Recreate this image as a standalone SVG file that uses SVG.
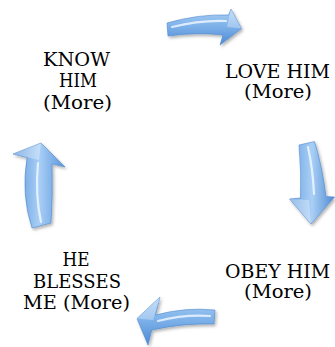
<svg xmlns="http://www.w3.org/2000/svg" width="335" height="347" viewBox="0 0 335 347">
<style>
.lbl{font-family:"DejaVu Serif","Liberation Serif",serif;font-size:18px;fill:#000000;text-anchor:middle}
.arrow{stroke:#4f88cc;stroke-width:0.6;stroke-linejoin:round;filter:url(#sh)}
.hl{fill:none;stroke:#f2f9ff;stroke-width:2.2;stroke-linecap:round;opacity:0.8}
.facet{fill:#ffffff;opacity:0.3}
</style>
<defs>
<filter id="sh" x="-20%" y="-20%" width="150%" height="150%">
<feDropShadow dx="1.5" dy="2" stdDeviation="1.5" flood-color="#000" flood-opacity="0.3"/>
</filter>
<linearGradient id="gTop" x1="0" y1="0" x2="0" y2="1">
<stop offset="0" stop-color="#acd0f5"/><stop offset="0.45" stop-color="#80b3ea"/><stop offset="1" stop-color="#4c8ad5"/>
</linearGradient>
<linearGradient id="gBot" x1="0" y1="1" x2="0" y2="0">
<stop offset="0" stop-color="#4c8ad5"/><stop offset="0.55" stop-color="#80b3ea"/><stop offset="1" stop-color="#a9cef5"/>
</linearGradient>
<linearGradient id="gRight" x1="0" y1="0" x2="1" y2="0">
<stop offset="0" stop-color="#6aa2e2"/><stop offset="0.5" stop-color="#a9cff5"/><stop offset="1" stop-color="#4f8bd3"/>
</linearGradient>
<linearGradient id="gLeft" x1="0" y1="0" x2="1" y2="0">
<stop offset="0" stop-color="#5a95dc"/><stop offset="0.5" stop-color="#a9cff5"/><stop offset="1" stop-color="#5a95dc"/>
</linearGradient>
</defs>
<g id="connectors">
<g id="arrow-top">
<path class="arrow" fill="url(#gTop)" d="M167,23 Q198,14 228.5,15 L231,9 L241.5,28.5 L220,45 L223,35 Q196,32 168,36 Z"/>
<path class="facet" d="M231,9 L241.5,28.5 L227,27 Z"/>
<path class="hl" d="M172,27 Q200,20 226,21"/>
</g>
<g id="arrow-right">
<path class="arrow" fill="url(#gRight)" d="M299,145 Q301.5,172 300.5,198 L289.5,199 L311,224 L334.5,197 L326,196.5 Q322,165 314.5,141.5 Z"/>
<path class="facet" d="M289.5,199 L311,224 L309,200 Z"/>
<path class="hl" d="M308,147 Q313,170 314,194"/>
</g>
<g id="arrow-bottom">
<path class="arrow" fill="url(#gBot)" d="M215,310 Q185,307 155.5,315 L160,297 L137,318.5 L148,345 L151.75,330 Q183,323 214,324 Z"/>
<path class="facet" d="M160,297 L137,318.5 L153,320 Z"/>
<path class="hl" d="M210,316 Q185,314 158,321"/>
</g>
<g id="arrow-left">
<path class="arrow" fill="url(#gLeft)" d="M32,228 Q21,195 27,157.5 L13,154 L41,143 L65,167 L52,163.75 Q53,195 51,223 Z"/>
<path class="facet" d="M13,154 L41,143 L39,160 Z"/>
<path class="hl" d="M41,222 Q35,195 38,163"/>
</g>
</g>
<g id="node-know">
<text class="lbl" x="76.5" y="65.5" textLength="67" lengthAdjust="spacingAndGlyphs">KNOW</text>
<text class="lbl" x="78" y="87" textLength="38" lengthAdjust="spacingAndGlyphs">HIM</text>
<text class="lbl" x="77.5" y="108.5" textLength="69" lengthAdjust="spacingAndGlyphs">(More)</text>
</g>
<g id="node-love">
<text class="lbl" x="277.5" y="78" textLength="105" lengthAdjust="spacingAndGlyphs">LOVE HIM</text>
<text class="lbl" x="278" y="98" textLength="68" lengthAdjust="spacingAndGlyphs">(More)</text>
</g>
<g id="node-obey">
<text class="lbl" x="277.5" y="278" textLength="105" lengthAdjust="spacingAndGlyphs">OBEY HIM</text>
<text class="lbl" x="278" y="298" textLength="68" lengthAdjust="spacingAndGlyphs">(More)</text>
</g>
<g id="node-bless">
<text class="lbl" x="76" y="266" textLength="27" lengthAdjust="spacingAndGlyphs">HE</text>
<text class="lbl" x="77" y="287.5" textLength="88" lengthAdjust="spacingAndGlyphs">BLESSES</text>
<text class="lbl" x="76.5" y="308.5" textLength="107" lengthAdjust="spacingAndGlyphs">ME (More)</text>
</g>
</svg>
